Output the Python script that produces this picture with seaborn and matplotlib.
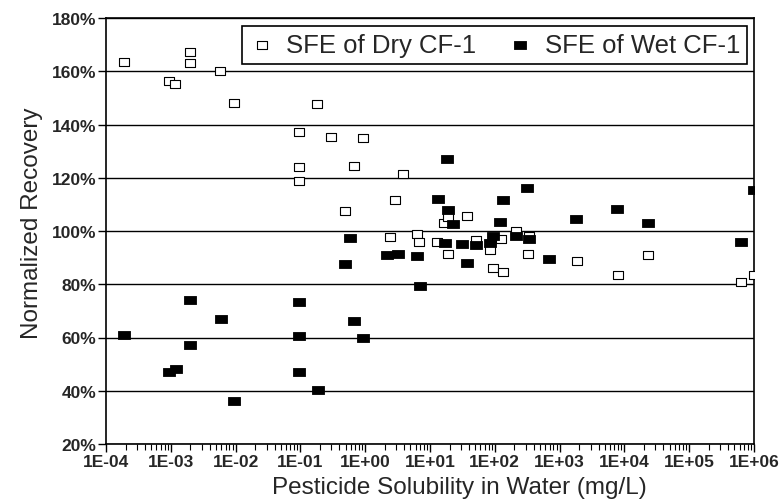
import numpy as np
import pandas as pd
import matplotlib
matplotlib.use("Agg")
import matplotlib.pyplot as plt
import matplotlib.ticker as mticker
from matplotlib.path import Path
from matplotlib.markers import MarkerStyle
import seaborn as sns

# ---- data ----
dry_solubility = [1.9e-4, 1.95e-3, 1.95e-3, 5.8e-3, 9.3e-4, 1.15e-3, 9.5e-3, 0.18,
                  0.095, 0.095, 0.095, 0.30, 0.93, 0.68, 3.8, 2.85, 0.48,
                  37.6, 16.6, 19.0, 6.3, 6.8, 2.45, 12.6, 19.0, 52.0, 85.0, 123.0,
                  95.0, 135.0, 214.0, 324.0, 339.0, 1860.0, 2.3e4, 7.9e3, 6.2e5, 1.0e6]
dry_recovery = [163.6, 167.3, 163.1, 160.2, 156.3, 155.3, 148.1, 147.7,
                137.1, 124.1, 118.9, 135.2, 134.8, 124.5, 121.4, 111.8, 107.6,
                105.5, 102.9, 105.3, 98.9, 96.0, 97.6, 95.7, 91.4, 96.7, 93.0, 97.0,
                86.0, 84.5, 100.0, 91.2, 98.0, 88.8, 90.8, 83.4, 80.7, 83.3]

wet_solubility = [1.9e-4, 2.0e-3, 2.0e-3, 6.0e-3, 9.5e-4, 1.2e-3, 9.5e-3,
                  0.095, 0.095, 0.095, 0.19, 0.68, 0.93, 0.58, 0.48,
                  2.2, 3.2, 6.3, 6.9, 18.6, 13.5, 19.0, 23.0, 17.0, 31.6, 37.6,
                  52.0, 85.0, 95.0, 120.0, 135.0, 209.0, 316.0, 339.0, 690.0,
                  1820.0, 7760.0, 2.3e4, 6.2e5, 1.0e6]
wet_recovery = [61.1, 74.1, 57.3, 66.9, 47.2, 48.2, 36.3,
                73.2, 60.7, 47.2, 40.3, 66.3, 60.0, 97.2, 87.6,
                91.0, 91.2, 90.7, 79.5, 127.0, 112.0, 107.8, 102.6, 95.6, 95.1, 88.0,
                94.6, 95.5, 98.2, 103.5, 111.8, 98.0, 116.0, 97.0, 89.5,
                104.6, 108.3, 103.0, 96.0, 115.3]

series_names = ["SFE of Dry CF-1", "SFE of Wet CF-1"]
y_ticks = [20, 40, 60, 80, 100, 120, 140, 160, 180]
x_ticks = [1e-4, 1e-3, 1e-2, 1e-1, 1e0, 1e1, 1e2, 1e3, 1e4, 1e5, 1e6]
x_tick_labels = ["1E-04", "1E-03", "1E-02", "1E-01", "1E+00", "1E+01",
                 "1E+02", "1E+03", "1E+04", "1E+05", "1E+06"]

df = pd.concat([
    pd.DataFrame({"sol": dry_solubility, "rec": dry_recovery, "series": series_names[0]}),
    pd.DataFrame({"sol": wet_solubility, "rec": wet_recovery, "series": series_names[1]}),
], ignore_index=True)

# ---- style ----
sns.set_style("white")
plt.rcParams["font.family"] = ["Liberation Sans", "DejaVu Sans"]

fig = plt.figure(figsize=(7.82, 5.02), dpi=100)
ax = fig.add_axes([106 / 782, 1 - 445 / 502, 648 / 782, 426 / 502])

# slightly wide rectangular marker, as in the scanned original
rect = Path([(-1.0, -0.75), (1.0, -0.75), (1.0, 0.75), (-1.0, 0.75), (-1.0, -0.75)],
            [Path.MOVETO, Path.LINETO, Path.LINETO, Path.LINETO, Path.CLOSEPOLY])
rect_marker = MarkerStyle(rect)

styles = {
    series_names[0]: dict(facecolor="white", edgecolor="black", linewidth=0.8, s=58),
    series_names[1]: dict(facecolor="black", edgecolor="black", linewidth=0.6, s=70),
}
for name in series_names:
    sub = df[df["series"] == name]
    st = styles[name]
    sns.scatterplot(data=sub, x="sol", y="rec", marker=rect_marker, ax=ax, label=name,
                    color=st["facecolor"], edgecolor=st["edgecolor"],
                    linewidth=st["linewidth"], s=st["s"], zorder=3)

ax.set_xscale("log")
ax.set_xlim(1e-4, 1e6)
ax.set_ylim(20, 180)

ax.set_xticks(x_ticks)
ax.set_xticklabels(x_tick_labels)
ax.xaxis.set_minor_locator(mticker.LogLocator(base=10, subs=np.arange(2, 10), numticks=100))
ax.xaxis.set_minor_formatter(mticker.NullFormatter())
ax.set_yticks(y_ticks)
ax.set_yticklabels([f"{v}%" for v in y_ticks])

ax.tick_params(axis="x", which="major", direction="out", length=6, width=1,
               color="black", labelsize=12.5, pad=1, bottom=True)
ax.tick_params(axis="x", which="minor", direction="out", length=4, width=0.8,
               color="black", bottom=True)
ax.tick_params(axis="y", which="major", direction="out", length=6, width=1,
               color="black", labelsize=12.5, pad=1, left=True)
for lab in ax.get_xticklabels() + ax.get_yticklabels():
    lab.set_fontweight("bold")

ax.yaxis.grid(True, color="black", linewidth=1.0, zorder=1)
ax.xaxis.grid(False)
ax.set_axisbelow(True)
for sp in ax.spines.values():
    sp.set_visible(True)
    sp.set_color("black")
    sp.set_linewidth(1.2)

ax.set_xlabel("Pesticide Solubility in Water (mg/L)", fontsize=17.5, labelpad=4)
ax.xaxis.set_label_coords((459 - 106) / 648, -0.075)
ax.set_ylabel("Normalized Recovery", fontsize=17.5, labelpad=6)
ax.yaxis.label.set_y(0.52)

leg = ax.legend(loc="upper left", bbox_to_anchor=((242 - 106) / 648, 1 - (27 - 19) / 426),
                borderaxespad=0, ncol=2, frameon=True, fancybox=False,
                edgecolor="black", fontsize=18.5, handlelength=1.0,
                handletextpad=0.45, columnspacing=1.2, borderpad=0.28,
                markerscale=1.0)
leg.get_frame().set_linewidth(1.2)
leg.get_frame().set_facecolor("white")
leg.get_frame().set_alpha(1)

fig.savefig("out.png", dpi=100)
